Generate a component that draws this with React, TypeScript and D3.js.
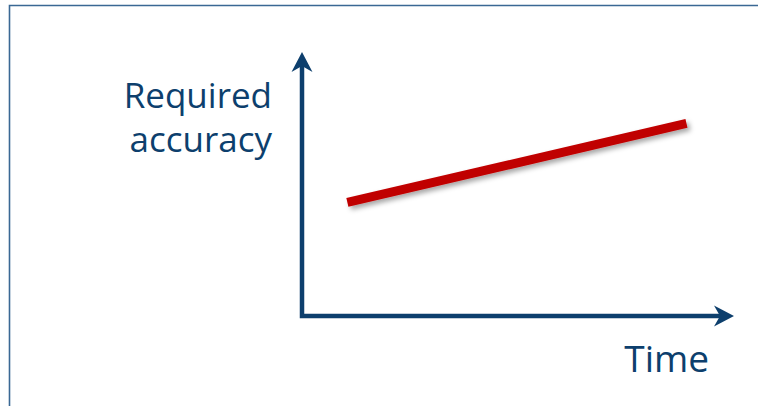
import * as d3 from "d3";
import React, { useEffect, useRef } from "react";

// concept chart: required accuracy rises over time
const timeVals = [1.05, 8.9];
const accuracyVals = [4.3, 7.3];
const yLabelLines = ["Required", "accuracy"];
const xLabel = "Time";

const width = 758;
const height = 406;
const navy = "#0d3f6d";
const font = "'Open Sans', 'Noto Sans', sans-serif";

const App = () => {
  const ref = useRef<HTMLDivElement>(null);

  useEffect(() => {
    const x0 = 302;
    const y0 = 316;
    const xScale = d3.scaleLinear().domain([0, 10]).range([x0, 734]);
    const yScale = d3.scaleLinear().domain([0, 10]).range([y0, 52]);

    const svg = d3
      .create("svg")
      .attr("width", width)
      .attr("height", height)
      .attr("viewBox", `0 0 ${width} ${height}`)
      .style("position", "absolute")
      .style("left", "0px")
      .style("top", "0px")
      .style("background", "#fff");

    const defs = svg.append("defs");
    const f = defs
      .append("filter")
      .attr("id", "shadow")
      .attr("x", "-10%")
      .attr("y", "-50%")
      .attr("width", "120%")
      .attr("height", "200%");
    f.append("feDropShadow")
      .attr("dx", 3)
      .attr("dy", 3)
      .attr("stdDeviation", 2.5)
      .attr("flood-color", "#000")
      .attr("flood-opacity", 0.35);

    // frame
    svg
      .append("path")
      .attr("d", `M9.5,${height + 5} V5.5 H${width + 5}`)
      .attr("fill", "none")
      .attr("stroke", "#3a6894")
      .attr("stroke-width", 1.6);

    // axes
    const yTop = yScale(10);
    const xEnd = xScale(10);
    svg
      .append("path")
      .attr("d", `M${x0},${yTop + 12} V${y0} H${xEnd - 12}`)
      .attr("fill", "none")
      .attr("stroke", navy)
      .attr("stroke-width", 4.5)
      .attr("stroke-linejoin", "miter");

    // arrow heads
    svg
      .append("path")
      .attr(
        "d",
        `M${x0},${yTop} L${x0 + 10.5},${yTop + 20} L${x0},${yTop + 14} L${x0 - 10.5},${yTop + 20} Z`
      )
      .attr("fill", navy);
    svg
      .append("path")
      .attr(
        "d",
        `M${xEnd},${y0} L${xEnd - 20},${y0 - 10.5} L${xEnd - 14},${y0} L${xEnd - 20},${y0 + 10.5} Z`
      )
      .attr("fill", navy);

    // trend line
    const line = d3
      .line<number>()
      .x((d, i) => xScale(timeVals[i]))
      .y((d) => yScale(d));
    svg
      .append("path")
      .attr("d", line(accuracyVals))
      .attr("fill", "none")
      .attr("stroke", "#c00000")
      .attr("stroke-width", 9)
      .attr("filter", "url(#shadow)");

    // labels
    yLabelLines.forEach((t, i) => {
      svg
        .append("text")
        .attr("x", 272)
        .attr("y", 108 + i * 44)
        .attr("text-anchor", "end")
        .attr("font-family", font)
        .attr("font-size", 35)
        .attr("fill", navy)
        .text(t);
    });

    svg
      .append("text")
      .attr("x", 709)
      .attr("y", 372)
      .attr("text-anchor", "end")
      .attr("font-family", font)
      .attr("font-size", 37)
      .attr("fill", navy)
      .text(xLabel);

    if (ref.current) {
      ref.current.innerHTML = "";
      ref.current.appendChild(svg.node()!);
    }
  }, []);

  return <div ref={ref}></div>;
};

export default App;
